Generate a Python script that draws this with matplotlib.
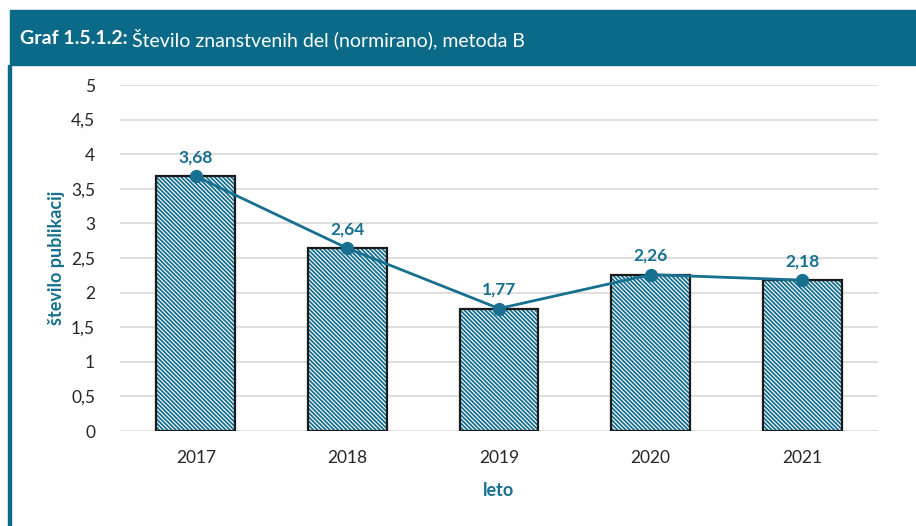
import matplotlib
matplotlib.use("Agg")
import matplotlib.pyplot as plt
from matplotlib.patches import Rectangle

plt.rcParams["font.family"] = ["Lato", "DejaVu Sans"]
plt.rcParams["hatch.linewidth"] = 1.3

years = ["2017", "2018", "2019", "2020", "2021"]
values = [3.68, 2.64, 1.77, 2.26, 2.18]
labels = ["3,68", "2,64", "1,77", "2,26", "2,18"]
yticks = [0, 0.5, 1, 1.5, 2, 2.5, 3, 3.5, 4, 4.5, 5]
ytick_labels = ["0", "0,5", "1", "1,5", "2", "2,5", "3", "3,5", "4", "4,5", "5"]

TEAL = "#17708f"
HEADER = "#0c6a89"

fig = plt.figure(figsize=(9.16, 5.26), dpi=100)

# header band and left border
fig.patches.append(Rectangle((10 / 916, 1 - 65 / 526), 1, 55 / 526,
                             transform=fig.transFigure, color=HEADER, zorder=0))
fig.patches.append(Rectangle((8 / 916, 0), 3 / 916, 1 - 65 / 526,
                             transform=fig.transFigure, color=HEADER, zorder=0))

t1 = fig.text(20 / 916, 1 - 39 / 526, "Graf 1.5.1.2:", color="white",
              fontsize=14, fontweight="bold", va="center")
fig.canvas.draw()
bb = t1.get_window_extent()
fig.text(bb.x1 / fig.bbox.width + 4 / 916, 1 - 39 / 526,
         "Število znanstvenih del (normirano), metoda B",
         color="white", fontsize=14, va="center")

ax = fig.add_axes([120 / 916, 1 - 431 / 526, 758 / 916, 346 / 526])
x = range(len(years))

ax.bar(x, values, width=0.52, color="white", edgecolor=TEAL,
       hatch="\\\\\\\\\\\\\\\\", linewidth=0, zorder=2)
ax.bar(x, values, width=0.52, color="none", edgecolor="#1a1a1a", linewidth=1.6,
       zorder=3)
ax.plot(x, values, color=TEAL, lw=2, marker="o", ms=8.5, zorder=4)
for xi, v, lab in zip(x, values, labels):
    ax.annotate(lab, (xi, v), xytext=(0, 8), textcoords="offset points",
                ha="center", va="bottom", color=TEAL, fontsize=12.5,
                fontweight="bold")

ax.set_xlim(-0.5, len(years) - 0.5)
ax.set_ylim(0, 5)
ax.set_yticks(yticks)
ax.set_yticklabels(ytick_labels)
ax.set_xticks(list(x))
ax.set_xticklabels(years)
ax.tick_params(length=0, labelsize=12.5, colors="#262626")
ax.tick_params(axis="y", pad=18)
ax.tick_params(axis="x", pad=14)
ax.grid(axis="y", color="#d9d9d9", lw=1.2, zorder=0)
ax.set_axisbelow(True)
for s in ax.spines.values():
    s.set_visible(False)

ax.set_ylabel("število publikacij", color=TEAL, fontsize=13,
              fontweight="bold", labelpad=4)
ax.set_xlabel("leto", color=TEAL, fontsize=13, fontweight="bold",
              labelpad=11)

fig.savefig("out.png", dpi=100)
